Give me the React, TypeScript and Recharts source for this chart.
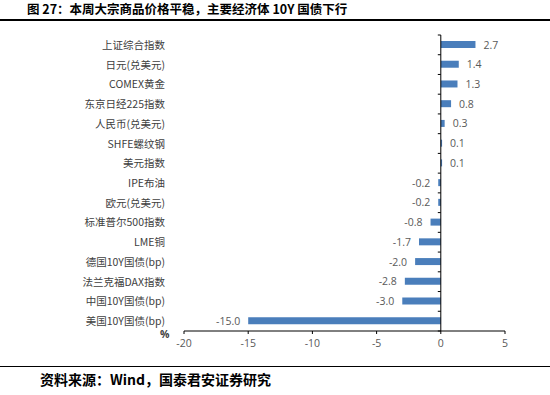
import { BarChart, Bar, XAxis, YAxis, LabelList, ReferenceLine, usePlotArea } from 'recharts';

const categories = [
  '上证综合指数',
  '日元(兑美元)',
  'COMEX黄金',
  '东京日经225指数',
  '人民币(兑美元)',
  'SHFE螺纹钢',
  '美元指数',
  'IPE布油',
  '欧元(兑美元)',
  '标准普尔500指数',
  'LME铜',
  '德国10Y国债(bp)',
  '法兰克福DAX指数',
  '中国10Y国债(bp)',
  '美国10Y国债(bp)',
];
const changes = [2.7, 1.4, 1.3, 0.8, 0.3, 0.1, 0.1, -0.2, -0.2, -0.8, -1.7, -2.0, -2.8, -3.0, -15.0];
const xTicks = [-20, -15, -10, -5, 0, 5];

const data = categories.map((name, i) => ({ name, value: changes[i] }));

const BAR = '#4A7EBB';
const CJK = '"Noto Sans CJK SC", "Noto Sans", sans-serif';

// tick marks on the zero axis, between categories
function ZeroAxisTicks() {
  const area = usePlotArea();
  if (!area) return null;
  const zeroX = area.x + (area.width * 20) / 25;
  const step = area.height / categories.length;
  const marks = [];
  for (let i = 0; i <= categories.length; i++) {
    const y = area.y + i * step;
    marks.push(<line key={i} x1={zeroX - 3} x2={zeroX} y1={y} y2={y} stroke="#000" strokeWidth={1} />);
  }
  return <g>{marks}</g>;
}

const CategoryTick = (props: any) => {
  const { x, y, payload } = props;
  return (
    <text x={x - 11} y={y} dy={4} textAnchor="end" fontSize={10.5} fill="#404040" fontFamily={CJK}>
      {payload.value}
    </text>
  );
};

const ValueLabel = (props: any) => {
  const { x, y, width, height, value } = props;
  const left = Math.min(x, x + width);
  const right = Math.max(x, x + width);
  const pos = value >= 0;
  return (
    <text
      x={pos ? right + 8 : left - 8}
      y={y + height / 2}
      dy={4}
      textAnchor={pos ? 'start' : 'end'}
      fontSize={10.5}
      fill="#595959"
      fontFamily='"Open Sans", "Noto Sans", sans-serif'
    >
      {value.toFixed(1)}
    </text>
  );
};

export default function App() {
  return (
    <div style={{ position: 'absolute', left: 0, top: 0, width: 550, height: 395, background: '#fff', fontFamily: CJK }}>
      <div style={{ position: 'absolute', left: 27, top: 0, fontSize: 12.5, fontWeight: 700, color: '#000', whiteSpace: 'nowrap', lineHeight: '18px' }}>
        图 27：本周大宗商品价格平稳，主要经济体 10Y 国债下行
      </div>
      <div style={{ position: 'absolute', left: 0, top: 19, width: 550, height: 2, background: '#000' }} />
      <div style={{ position: 'absolute', left: 0, top: 0 }}>
        <BarChart
          width={550}
          height={395}
          data={data}
          layout="vertical"
          margin={{ top: 35, right: 45, bottom: 42, left: 0 }}
          barSize={7}
        >
          <XAxis
            type="number"
            domain={[-20, 5]}
            ticks={xTicks}
            interval={0}
            height={22}
            tick={{ fontSize: 10.5, fill: '#595959', fontFamily: '"Open Sans", "Noto Sans", sans-serif' }}
            axisLine={{ stroke: '#000' }}
            tickLine={{ stroke: '#000' }}
            tickSize={3}
            tickMargin={6}
          />
          <YAxis
            type="category"
            dataKey="name"
            width={184}
            axisLine={false}
            tickLine={false}
            interval={0}
            tick={<CategoryTick />}
          />
          <ReferenceLine x={0} stroke="#000" strokeWidth={1} ifOverflow="extendDomain" />
          <ZeroAxisTicks />
          <Bar dataKey="value" fill={BAR} isAnimationActive={false}>
            <LabelList dataKey="value" content={<ValueLabel />} />
          </Bar>
        </BarChart>
      </div>
      <div style={{ position: 'absolute', left: 160, top: 327, fontSize: 10.5, fontWeight: 700, color: '#404040', fontFamily: '"Open Sans", sans-serif' }}>%</div>
      <div style={{ position: 'absolute', left: 0, top: 366, width: 550, height: 1, background: '#000' }} />
      <div style={{ position: 'absolute', left: 40, top: 370, fontSize: 14, fontWeight: 700, color: '#000', whiteSpace: 'nowrap', lineHeight: '18px' }}>
        资料来源：Wind，国泰君安证券研究
      </div>
    </div>
  );
}
